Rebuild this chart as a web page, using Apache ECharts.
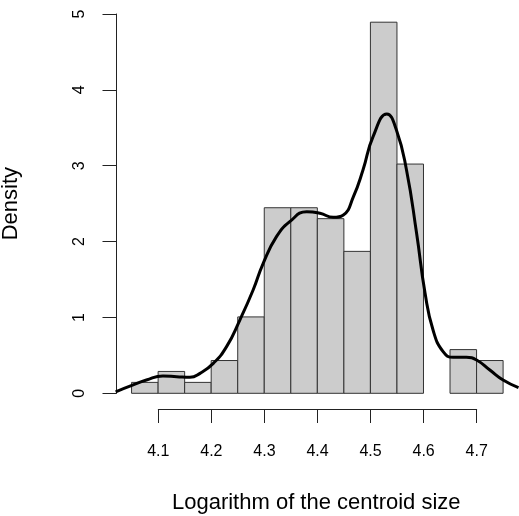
<!DOCTYPE html>
<html>
<head>
<meta charset="utf-8">
<title>Histogram</title>
<script src="https://cdn.jsdelivr.net/npm/echarts@6/dist/echarts.min.js"></script>
<style>
  html, body { margin: 0; padding: 0; background: #fff; }
  #main { width: 519px; height: 516px; }
</style>
</head>
<body>
<div id="main"></div>
<script>
// histogram bins (width 0.05) and their densities
var binStarts = [4.05, 4.10, 4.15, 4.20, 4.25, 4.30, 4.35, 4.40, 4.45, 4.50, 4.55, 4.60, 4.65, 4.70];
var binWidth = 0.05;
var densities = [0.144, 0.288, 0.144, 0.432, 1.007, 2.446, 2.446, 2.302, 1.871, 4.892, 3.022, 0, 0.576, 0.432];

// kernel density curve
var curveX = [4.020, 4.053, 4.078, 4.109, 4.135, 4.160, 4.179, 4.204, 4.229, 4.254, 4.279, 4.298,
  4.323, 4.348, 4.380, 4.405, 4.430, 4.449, 4.468, 4.486, 4.505, 4.531, 4.549, 4.568, 4.587,
  4.603, 4.618, 4.637, 4.656, 4.681, 4.700, 4.725, 4.750, 4.779];
var curveY = [0.02, 0.11, 0.175, 0.228, 0.219, 0.21, 0.263, 0.395, 0.615, 0.966, 1.362, 1.714,
  2.065, 2.262, 2.394, 2.373, 2.32, 2.35, 2.592, 2.944, 3.383, 3.682, 3.471, 2.944, 2.109,
  1.318, 0.834, 0.548, 0.474, 0.474, 0.439, 0.307, 0.175, 0.074];

var xTicks = [4.1, 4.2, 4.3, 4.4, 4.5, 4.6, 4.7];
var yTicks = [0, 1, 2, 3, 4, 5];

var FONT = '"Liberation Sans", Arial, Helvetica, sans-serif';
var AXIS_COLOR = '#222';

var chart = echarts.init(document.getElementById('main'));

var barData = [];
for (var i = 0; i < binStarts.length; i++) {
  barData.push([binStarts[i], binStarts[i] + binWidth, densities[i]]);
}
var lineData = [];
for (var j = 0; j < curveX.length; j++) {
  lineData.push([curveX[j], curveY[j]]);
}

var option = {
  animation: false,
  backgroundColor: '#fff',
  grid: [
    { left: 116.5, top: 14, width: 405.5, height: 379.3, outerBoundsMode: 'none', containLabel: false },
    { left: 158.3, top: 408, width: 318.4, height: 1, outerBoundsMode: 'none', containLabel: false }
  ],
  xAxis: [
    {
      type: 'value', gridIndex: 0, min: 4.0216, max: 4.7856,
      axisLine: { show: false }, axisTick: { show: false },
      axisLabel: { show: false }, splitLine: { show: false },
      name: 'Logarithm of the centroid size', nameLocation: 'middle', nameGap: 99,
      nameTextStyle: { fontFamily: FONT, fontSize: 22, color: '#000', padding: [0, 6, 0, 0] }
    },
    {
      type: 'value', gridIndex: 1, min: xTicks[0], max: xTicks[xTicks.length - 1], interval: 0.1,
      position: 'top',
      axisLine: { show: true, lineStyle: { color: AXIS_COLOR, width: 1 } },
      axisTick: { show: true, inside: true, length: 14, lineStyle: { color: AXIS_COLOR, width: 1 } },
      axisLabel: { show: false },
      splitLine: { show: false }
    },
    {
      type: 'value', gridIndex: 1, min: xTicks[0], max: xTicks[xTicks.length - 1], interval: 0.1,
      position: 'top',
      axisLine: { show: false }, axisTick: { show: false },
      axisLabel: {
        show: true, inside: true, margin: 36, fontFamily: FONT, fontSize: 16, color: '#000',
        formatter: function (v) { return v.toFixed(1); }
      },
      splitLine: { show: false }
    }
  ],
  yAxis: [
    {
      type: 'value', gridIndex: 0, min: yTicks[0], max: yTicks[yTicks.length - 1], interval: 1,
      axisLine: { show: true, lineStyle: { color: AXIS_COLOR, width: 1 } },
      axisTick: { show: true, length: 14, lineStyle: { color: AXIS_COLOR, width: 1 } },
      axisLabel: { rotate: 90, margin: 29, fontFamily: FONT, fontSize: 16, color: '#000' },
      splitLine: { show: false },
      name: 'Density', nameLocation: 'middle', nameGap: 95, nameRotate: 90,
      nameTextStyle: { fontFamily: FONT, fontSize: 22, color: '#000' }
    },
    {
      type: 'value', gridIndex: 1, min: 0, max: 1, show: false
    }
  ],
  series: [
    {
      type: 'custom',
      xAxisIndex: 0, yAxisIndex: 0,
      data: barData,
      renderItem: function (params, api) {
        var p0 = api.coord([api.value(0), api.value(2)]);
        var p1 = api.coord([api.value(1), 0]);
        if (api.value(2) <= 0) return null;
        return {
          type: 'rect',
          shape: { x: p0[0], y: p0[1], width: p1[0] - p0[0], height: p1[1] - p0[1] },
          style: { fill: '#cccccc', stroke: '#333', lineWidth: 1 }
        };
      }
    },
    {
      type: 'line',
      xAxisIndex: 0, yAxisIndex: 0,
      data: lineData,
      smooth: true,
      showSymbol: false,
      lineStyle: { color: '#000', width: 3 },
      clip: false
    }
  ]
};

chart.setOption(option);
</script>
</body>
</html>
